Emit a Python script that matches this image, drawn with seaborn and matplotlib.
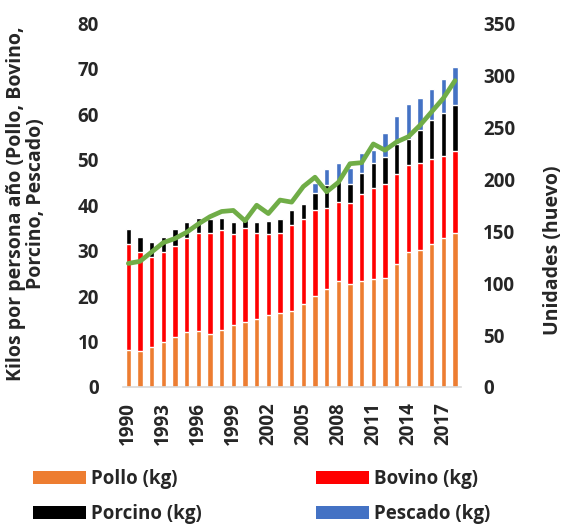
import numpy as np
import pandas as pd
import seaborn as sns
import matplotlib.pyplot as plt
from matplotlib.patches import Patch

# Datos (kg por persona al año y unidades de huevo)
years = list(range(1990, 2019))
pollo = [8.1, 8.0, 8.9, 10.0, 10.9, 12.0, 12.4, 11.7, 12.5, 13.7, 14.2, 14.9, 15.8, 16.2, 16.8,
         18.3, 20.0, 21.6, 23.3, 22.7, 23.3, 23.8, 23.9, 27.1, 29.6, 30.2, 31.5, 32.7, 34.0]
bovino = [23.4, 21.6, 19.8, 19.6, 20.2, 20.9, 21.5, 22.2, 22.0, 20.0, 20.7, 18.9, 17.9, 17.8, 18.8,
          18.7, 19.0, 17.7, 17.5, 17.8, 19.1, 20.1, 20.8, 19.8, 19.2, 19.2, 18.7, 18.1, 18.0]
porcino = [3.2, 3.5, 3.3, 3.4, 3.7, 3.4, 3.2, 3.0, 2.8, 2.7, 1.8, 2.6, 2.8, 3.0, 3.3,
           3.2, 3.8, 5.1, 4.7, 4.1, 4.8, 5.5, 6.0, 6.5, 5.8, 7.1, 8.5, 9.4, 10.0]
pescado = [0, 0, 0, 0, 0, 0, 0, 0, 0, 0, 0, 0, 0, 0, 0,
           0, 2.0, 3.5, 3.7, 3.5, 4.4, 2.7, 5.3, 6.2, 7.6, 7.2, 6.8, 7.6, 8.5]
huevo = [119, 121, 130, 139, 143, 149, 157, 164, 169, 170, 160, 175, 167, 180, 178,
         193, 202, 188, 197, 215, 216, 234, 228, 236, 241, 252, 265, 278, 295]

series = ["Pollo (kg)", "Bovino (kg)", "Porcino (kg)", "Pescado (kg)"]
colors = ["#ED7D31", "#FF0000", "#000000", "#4472C4"]

df = pd.DataFrame({"year": years, "Pollo (kg)": pollo, "Bovino (kg)": bovino,
                   "Porcino (kg)": porcino, "Pescado (kg)": pescado})
# acumulados para apilar las barras
cum = df[series].cumsum(axis=1)

sns.set_theme(style="white")
plt.rcParams["font.family"] = ["Open Sans", "DejaVu Sans"]
plt.rcParams["font.weight"] = "bold"
plt.rcParams["axes.labelweight"] = "bold"
fs = 13.5

fig, ax = plt.subplots(figsize=(5.63, 5.25), dpi=100)
fig.subplots_adjust(left=0.2176, right=0.8185, bottom=0.2629, top=0.9552)

# dibujar de arriba hacia abajo para simular el apilado
for name, col in reversed(list(zip(series, colors))):
    sns.barplot(x=df["year"], y=cum[name], color=col, saturation=1, width=0.45,
                errorbar=None, ax=ax)

ax.set_ylim(0, 80)
ax.set_xlim(-0.5, len(years) - 0.5)
ax.set_yticks(range(0, 81, 10))
ax.set_xticks(range(0, len(years), 3))
ax.set_xticklabels(years[::3], rotation=90, fontsize=fs, fontweight="bold")
ax.tick_params(axis="y", labelsize=fs, length=0, pad=17)
ax.tick_params(axis="x", length=0, pad=11)
ax.set_xlabel("")
ax.set_ylabel("Kilos por persona año (Pollo, Bovino,\nPorcino, Pescado)", fontsize=14,
              fontweight="bold", linespacing=1.0)
ax.yaxis.set_label_coords(-0.225, 0.505)
for s in ["top", "left", "right"]:
    ax.spines[s].set_visible(False)
ax.spines["bottom"].set_color("#D9D9D9")
ax.spines["bottom"].set_linewidth(1.2)

# eje secundario: huevo
ax2 = ax.twinx()
sns.lineplot(x=np.arange(len(years)), y=huevo, color="#70AD47", lw=3.4, ax=ax2)
ax2.set_ylim(0, 350)
ax2.set_yticks(range(0, 351, 50))
ax2.tick_params(axis="y", labelsize=fs, length=0, pad=16)
ax2.set_ylabel("Unidades (huevo)", fontsize=14, fontweight="bold")
ax2.yaxis.set_label_coords(1.243, 0.375)
for s in ax2.spines.values():
    s.set_visible(False)
for lab in ax.get_yticklabels() + ax2.get_yticklabels():
    lab.set_fontweight("bold")

# leyenda en dos columnas debajo del grafico
handles = [Patch(facecolor=c, edgecolor="none") for c in colors]
leg_kw = dict(loc="upper left", frameon=False, fontsize=fs, handlelength=2.8,
              handleheight=0.75, handletextpad=0.3, labelspacing=0.8,
              borderpad=0, borderaxespad=0)
fig.legend([handles[0], handles[2]], [series[0], series[2]],
           bbox_to_anchor=(33 / 563, 1 - 469 / 525), **leg_kw)
fig.legend([handles[1], handles[3]], [series[1], series[3]],
           bbox_to_anchor=(316 / 563, 1 - 469 / 525), **leg_kw)

fig.savefig("out.png", dpi=100)
